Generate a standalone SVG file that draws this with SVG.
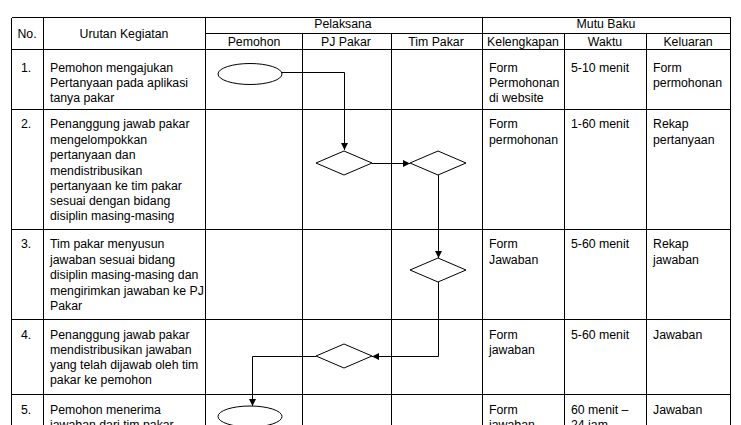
<svg xmlns="http://www.w3.org/2000/svg" width="741" height="425" viewBox="0 0 741 425">
<style>
.t{font-family:"Liberation Sans",Arial,sans-serif;font-size:12.3px;fill:#000}
.c{text-anchor:middle}
.g{stroke:#000;stroke-width:1;fill:none}
.s{stroke:#000;stroke-width:1;fill:#fff}
.k{stroke:#000;stroke-width:1;fill:none}
</style>
<defs>
<marker id="ah" viewBox="0 0 10 10" refX="10" refY="5" markerWidth="7" markerHeight="7" markerUnits="userSpaceOnUse" orient="auto">
<path d="M0,0 L10,5 L0,10 Z" fill="#000"/>
</marker>
</defs>
<rect width="741" height="425" fill="#fff"/>
<g id="table" shape-rendering="crispEdges">
<path class="g" d="M11.5,17.5H730.5 M205.5,33.5H730.5 M11.5,49.5H730.5 M11.5,109.5H730.5 M11.5,229.5H730.5 M11.5,319.5H730.5 M11.5,394.5H730.5"/>
<path class="g" d="M11.5,17.5V425 M43.5,17.5V425 M205.5,17.5V425 M302.5,33.5V425 M391.5,33.5V425 M482.5,17.5V425 M564.5,33.5V425 M646.5,33.5V425 M730.5,17.5V425"/>
</g>
<g id="header">
<text class="t c" x="27" y="38">No.</text>
<text class="t c" x="124" y="38">Urutan Kegiatan</text>
<text class="t c" x="343" y="28">Pelaksana</text>
<text class="t c" x="606" y="28">Mutu Baku</text>
<text class="t c" x="254" y="46">Pemohon</text>
<text class="t c" x="346" y="46">PJ Pakar</text>
<text class="t c" x="436" y="46">Tim Pakar</text>
<text class="t c" x="523" y="46">Kelengkapan</text>
<text class="t c" x="605" y="46">Waktu</text>
<text class="t c" x="688" y="46">Keluaran</text>
</g>
<g id="row1">
<text class="t" x="21" y="72">1.</text>
<text class="t" x="50" y="72">Pemohon mengajukan</text>
<text class="t" x="50" y="87">Pertanyaan pada aplikasi</text>
<text class="t" x="50" y="102">tanya pakar</text>
<text class="t" x="489" y="72">Form</text>
<text class="t" x="489" y="87">Permohonan</text>
<text class="t" x="489" y="102">di website</text>
<text class="t" x="571" y="72">5-10 menit</text>
<text class="t" x="653" y="72">Form</text>
<text class="t" x="653" y="87">permohonan</text>
</g>
<g id="row2">
<text class="t" x="21" y="128">2.</text>
<text class="t" x="50" y="128">Penanggung jawab pakar</text>
<text class="t" x="50" y="144">mengelompokkan</text>
<text class="t" x="50" y="159">pertanyaan dan</text>
<text class="t" x="50" y="175">mendistribusikan</text>
<text class="t" x="50" y="190">pertanyaan ke tim pakar</text>
<text class="t" x="50" y="205">sesuai dengan bidang</text>
<text class="t" x="50" y="220">disiplin masing-masing</text>
<text class="t" x="489" y="128">Form</text>
<text class="t" x="489" y="144">permohonan</text>
<text class="t" x="571" y="128">1-60 menit</text>
<text class="t" x="653" y="128">Rekap</text>
<text class="t" x="653" y="144">pertanyaan</text>
</g>
<g id="row3">
<text class="t" x="21" y="248">3.</text>
<text class="t" x="50" y="248">Tim pakar menyusun</text>
<text class="t" x="50" y="264">jawaban sesuai bidang</text>
<text class="t" x="50" y="279">disiplin masing-masing dan</text>
<text class="t" x="50" y="295">mengirimkan jawaban ke PJ</text>
<text class="t" x="50" y="310">Pakar</text>
<text class="t" x="489" y="248">Form</text>
<text class="t" x="489" y="264">Jawaban</text>
<text class="t" x="571" y="248">5-60 menit</text>
<text class="t" x="653" y="248">Rekap</text>
<text class="t" x="653" y="264">jawaban</text>
</g>
<g id="row4">
<text class="t" x="21" y="339">4.</text>
<text class="t" x="50" y="339">Penanggung jawab pakar</text>
<text class="t" x="50" y="354">mendistribusikan jawaban</text>
<text class="t" x="50" y="369">yang telah dijawab oleh tim</text>
<text class="t" x="50" y="384">pakar ke pemohon</text>
<text class="t" x="489" y="339">Form</text>
<text class="t" x="489" y="354">jawaban</text>
<text class="t" x="571" y="339">5-60 menit</text>
<text class="t" x="653" y="339">Jawaban</text>
</g>
<g id="row5">
<text class="t" x="21" y="414">5.</text>
<text class="t" x="50" y="414">Pemohon menerima</text>
<text class="t" x="50" y="429">jawaban dari tim pakar</text>
<text class="t" x="489" y="414">Form</text>
<text class="t" x="489" y="429">jawaban</text>
<text class="t" x="571" y="414">60 menit –</text>
<text class="t" x="571" y="429">24 jam</text>
<text class="t" x="653" y="414">Jawaban</text>
</g>
<g id="connectors">
<path class="k" d="M282,72.5H344.5V150" marker-end="url(#ah)"/>
<path class="k" d="M372,163.5H410" marker-end="url(#ah)"/>
<path class="k" d="M438.5,175V258" marker-end="url(#ah)"/>
<path class="k" d="M438.5,282V356.5H372" marker-end="url(#ah)"/>
<path class="k" d="M316,356.5H252.5V406" marker-end="url(#ah)"/>
</g>
<g id="start">
<ellipse class="s" cx="250" cy="74" rx="32" ry="10.5"/>
</g>
<g id="d1">
<polygon class="s" points="344,151 372,163 344,175 316,163"/>
</g>
<g id="d2">
<polygon class="s" points="438,151 466,163 438,175 410,163"/>
</g>
<g id="d3">
<polygon class="s" points="438,258 466,270 438,282 410,270"/>
</g>
<g id="d4">
<polygon class="s" points="344,344 372,356 344,368 316,356"/>
</g>
<g id="end">
<ellipse class="s" cx="250" cy="416.5" rx="32" ry="10.5"/>
</g>
</svg>
